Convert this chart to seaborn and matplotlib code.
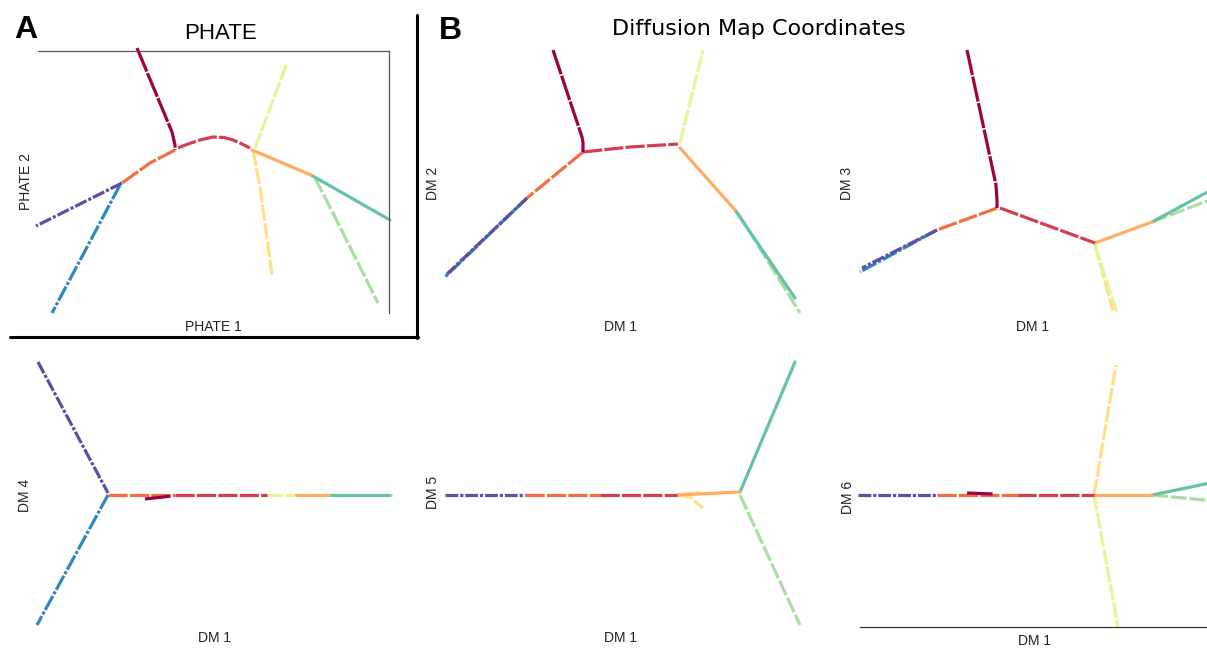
import matplotlib
matplotlib.use("Agg")
import matplotlib.pyplot as plt
from matplotlib.lines import Line2D
import pandas as pd
import seaborn as sns

W, H = 1207, 649

# ---- data -------------------------------------------------------------
BRANCHES = ["darkred", "red", "orangered", "orange", "yellow",
            "yellowgreen", "lightgreen", "teal", "blue", "purple"]
HEXES = ["#9e0142", "#d53e4f", "#f46d43", "#fdae61", "#fee08b",
         "#e6f598", "#abdda4", "#66c2a5", "#3288bd", "#5e4fa2"]

# PHATE embedding: branch -> (x values, y values)
PHATE = {
    "darkred": ([99, 134, 137, 137], [265, 181, 168, 163]),
    "red": ([140, 150, 162, 175, 186, 195, 204, 212],
            [165, 169, 173, 176, 175.5, 173, 169, 165]),
    "orangered": ([137, 112, 84], [163, 150, 130]),
    "purple": ([84, -2], [130, 87]),
    "blue": ([82, 14], [128, 0]),
    "yellowgreen": ([217, 249], [165, 250]),
    "yellow": ([215, 222, 234], [163, 126, 38]),
    "orange": ([214, 273], [163, 138]),
    "teal": ([273, 352], [138, 93]),
    "lightgreen": ([277, 295, 340], [135, 100, 10]),
}

# Diffusion map: DM2 vs DM1
DM2 = {
    "darkred": ([113, 142, 143, 143], [265, 178, 172, 163]),
    "red": ([143, 190, 238], [163, 168, 171]),
    "yellowgreen": ([240, 263], [172, 265]),
    "orangered": ([143, 87], [163, 117]),
    "blue": ([87, 5], [117, 38]),
    "purple": ([87, 7], [117, 41]),
    "orange": ([240, 295], [167, 105]),
    "teal": ([295, 355], [105, 17]),
    "lightgreen": ([298, 360], [102, 2]),
}

# DM3 vs DM1
DM3 = {
    "darkred": ([112, 141, 142, 142], [265, 130, 115, 107]),
    "orangered": ([142, 82], [107, 85]),
    "blue": ([82, 5], [85, 43]),
    "purple": ([82, 7], [85, 47]),
    "red": ([145, 240], [107, 72]),
    "yellowgreen": ([240, 262], [70, 2]),
    "yellow": ([240, 258], [70, 4]),
    "orange": ([240, 297], [72, 93]),
    "teal": ([297, 360], [93, 127]),
    "lightgreen": ([297, 360], [93, 117]),
}

# DM4 vs DM1
DM4 = {
    "purple": ([3, 73], [265, 134]),
    "blue": ([73, 2], [132, 2]),
    "orangered": ([73, 140], [132, 132]),
    "red": ([140, 232], [132, 132]),
    "yellowgreen": ([232, 261], [132, 132]),
    "orange": ([261, 294], [132, 132]),
    "teal": ([294, 353], [132, 132]),
    "lightgreen": ([351, 357], [132, 132]),
    "darkred": ([110, 137], [128, 131]),
}

# DM5 vs DM1
DM5 = {
    "purple": ([5, 85], [132, 132]),
    "orangered": ([85, 160], [132, 132]),
    "red": ([160, 237], [132, 132]),
    "yellow": ([237, 250, 263], [132, 130, 119]),
    "yellowgreen": ([237, 260], [132, 135]),
    "orange": ([237, 300], [132, 135]),
    "teal": ([300, 355], [135, 265]),
    "lightgreen": ([300, 360], [132, 2]),
}

# DM6 vs DM1
DM6 = {
    "purple": ([-2, 77], [132, 132]),
    "orangered": ([77, 157], [132, 132]),
    "red": ([157, 234], [132, 132]),
    "darkred": ([107, 133], [134, 133]),
    "yellow": ([234, 256], [132, 262]),
    "yellowgreen": ([234, 258], [132, 0]),
    "orange": ([234, 292], [132, 132]),
    "teal": ([292, 355], [132, 145]),
    "lightgreen": ([292, 355], [132, 126]),
}

XLABELS = ["PHATE 1", "DM 1", "DM 1", "DM 1", "DM 1", "DM 1"]
YLABELS = ["PHATE 2", "DM 2", "DM 3", "DM 4", "DM 5", "DM 6"]

# ---- style ------------------------------------------------------------
sns.set_style("white")
plt.rcParams["font.family"] = ["Liberation Sans", "DejaVu Sans"]

COLORS = dict(zip(BRANCHES, sns.color_palette(HEXES)))
LS = {
    "darkred": (0, (8, 0.5)),
    "red": (0, (6, 0.7)),
    "orangered": (0, (6, 0.7)),
    "orange": "-",
    "yellow": (0, (5, 0.8)),
    "yellowgreen": (0, (5, 0.7)),
    "lightgreen": (0, (5, 0.9)),
    "teal": "-",
    "blue": (0, (5, 0.6, 1, 0.6)),
    "purple": (0, (4, 0.6, 1, 0.6)),
}
DRAW_ORDER = ["blue", "purple", "lightgreen", "teal", "yellow",
              "yellowgreen", "orange", "orangered", "red", "darkred"]

fig = plt.figure(figsize=(W / 100, H / 100), dpi=100)

# panel boxes in pixels: left, top, right, bottom
BOXES = [(38, 51, 389, 313), (440, 48, 800, 315), (855, 48, 1207, 315),
         (35, 358, 392, 627), (440, 358, 800, 627), (860, 358, 1207, 627)]
PANELS = [PHATE, DM2, DM3, DM4, DM5, DM6]
XLAB_POS = [(213, 327), (621, 327), (1033, 327), (214, 638), (621, 638), (1035, 641)]
YLAB_POS = [(26, 182), (433, 183), (847, 183), (25, 495), (433, 492), (848, 497)]

for i, (panel, box) in enumerate(zip(PANELS, BOXES)):
    l, t, r, b = box
    ax = fig.add_axes([l / W, 1 - b / H, (r - l) / W, (b - t) / H])
    for name in DRAW_ORDER:
        if name not in panel:
            continue
        xs, ys = panel[name]
        df = pd.DataFrame({"x": xs, "y": ys})
        sns.lineplot(data=df, x="x", y="y", sort=False, estimator=None,
                     color=COLORS[name], lw=2.3, linestyle=LS[name],
                     clip_on=False, ax=ax)
    ax.set_xlim(0, r - l)
    ax.set_ylim(0, b - t)
    ax.set_xticks([])
    ax.set_yticks([])
    ax.set_xlabel("")
    ax.set_ylabel("")
    ax.patch.set_alpha(0)
    for s in ax.spines.values():
        s.set_visible(False)
    if i == 0:
        for s in ("top", "right"):
            ax.spines[s].set_visible(True)
            ax.spines[s].set_color("#555555")
            ax.spines[s].set_linewidth(0.9)
    if i == 5:
        ax.spines["bottom"].set_visible(True)
        ax.spines["bottom"].set_color("#333333")
        ax.spines["bottom"].set_linewidth(0.9)
    xp, yp = XLAB_POS[i]
    fig.text(xp / W, 1 - yp / H, XLABELS[i], ha="center", va="center",
             fontsize=10, color="#222222")
    xp, yp = YLAB_POS[i]
    fig.text(xp / W, 1 - yp / H, YLABELS[i], ha="center", va="center",
             rotation=90, fontsize=10, color="#222222")

# titles and panel letters
fig.text(26 / W, 1 - 38 / H, "A", ha="center", va="baseline",
         fontsize=23, fontweight="bold", color="black")
fig.text(450 / W, 1 - 39 / H, "B", ha="center", va="baseline",
         fontsize=23, fontweight="bold", color="black")
fig.text(221 / W, 1 - 39 / H, "PHATE", ha="center", va="baseline",
         fontsize=16, color="black")
fig.text(759 / W, 1 - 35 / H, "Diffusion Map Coordinates", ha="center",
         va="baseline", fontsize=16, family=["DejaVu Sans"], color="black")

# black frame around panel A
fig.add_artist(Line2D([416.5 / W, 416.5 / W], [1 - 15 / H, 1 - 338.5 / H],
                      color="black", lw=2.2, transform=fig.transFigure))
fig.add_artist(Line2D([10 / W, 418 / W], [1 - 337 / H, 1 - 337 / H],
                      color="black", lw=2.2, transform=fig.transFigure))

fig.savefig("out.png", dpi=100)
